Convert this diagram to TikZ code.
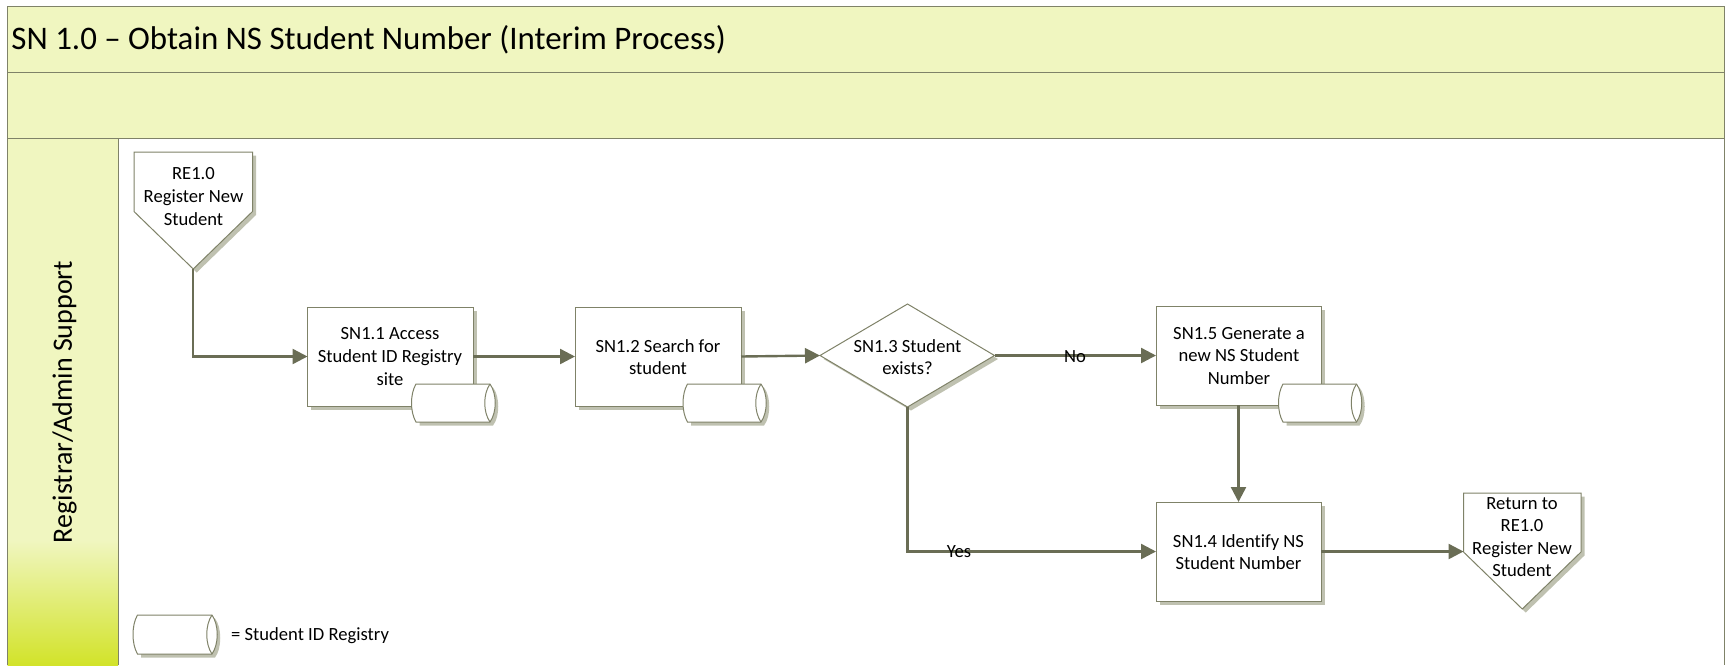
\documentclass[tikz,border=0pt]{standalone}
\usepackage{fontspec}
\setmainfont[Ligatures=NoCommon]{Carlito}
\usetikzlibrary{arrows.meta,shapes.geometric}
\definecolor{band}{HTML}{F0F6C0}
\definecolor{lime}{HTML}{D2E32A}
\definecolor{edge}{HTML}{7F8268}
\definecolor{conn}{HTML}{6A6D55}
\definecolor{shade}{HTML}{BFC1B0}
\tikzset{
  x=1pt,y=-1pt,
  bandbox/.style={draw=edge,line width=1pt,fill=band},
  shp/.style={draw=edge,line width=1pt,fill=white},
  shadowfill/.style={fill=shade,draw=none},
  txt/.style={font=\fontsize{18.6}{22.6}\selectfont,align=center,text=black,inner sep=0pt},
  flow/.style={draw=conn,line width=2.4pt,-{Triangle[length=15pt,width=15pt]},rounded corners=0pt},
  plain/.style={draw=none,inner sep=0pt,outer sep=0pt,fill=none},
}
\newcommand{\procbox}[5]{% name x1 y1 x2 y2
  \fill[shadowfill] (#2+3.5,#3+3.5) rectangle (#4+3.5,#5+3.5);
  \draw[shp] (#2,#3) rectangle (#4,#5);
  \coordinate (#1) at ({(#2+#4)/2},{(#3+#5)/2});
}
\newcommand{\cyl}[4]{% x1 y1 x2 y2
  \fill[shadowfill] (#1+8,#2+3.5) -- (#3-2,#2+3.5) .. controls (#3+5,#2+12) and (#3+5,#4-5) .. (#3-2,#4+3.5) -- (#1+8,#4+3.5) -- cycle;
  \draw[shp] (#1+4.5,#2) -- (#3-5,#2) .. controls (#3+2,#2+10) and (#3+2,#4-10) .. (#3-5,#4) -- (#1+4.5,#4) .. controls (#1-1.5,#4-10) and (#1-1.5,#2+10) .. (#1+4.5,#2) -- cycle;
  \draw[draw=edge,line width=1pt] (#3-5,#2) .. controls (#3-12,#2+10) and (#3-12,#4-10) .. (#3-5,#4);
}
\newcommand{\offpage}[6]{% name x1 y1 x2 yshoulder ytip
  \fill[shadowfill] (#2+3.5,#3+3.5) -- (#4+3.5,#3+3.5) -- (#4+3.5,#5+3.5) -- ({(#2+#4)/2+3.5},#6+3.5) -- (#2+3.5,#5+3.5) -- cycle;
  \draw[shp] (#2,#3) -- (#4,#3) -- (#4,#5) -- ({(#2+#4)/2},#6) -- (#2,#5) -- cycle;
  \coordinate (#1) at ({(#2+#4)/2},#6);
}
\begin{document}
\begin{tikzpicture}
\useasboundingbox (0,0) rectangle (1729,665);
% bands
\draw[bandbox] (7.5,6) rectangle (1724,72);
\draw[bandbox] (7.5,72) rectangle (1724,138);
\node[plain,anchor=west,font=\fontsize{32.9}{40}\selectfont] (title) at (11.5,40) {SN 1.0 – Obtain NS Student Number (Interim Process)};
% lane
\fill[band] (7.5,138) rectangle (118,540);
\shade[top color=band,bottom color=lime] (7.5,540) rectangle (118,665);
\draw[draw=edge,line width=1pt] (7.5,665) -- (7.5,138) -- (118,138) -- (118,665);
\node[plain,rotate=90,font=\fontsize{28}{34}\selectfont] (lane) at (64.5,402) {Registrar/Admin Support};
\draw[draw=edge,line width=1pt] (118,138) -- (1724,138) -- (1724,665);

% shapes
\offpage{startp}{134}{152}{252.5}{211.5}{269}
\procbox{b1}{307.5}{307}{473}{406}
\procbox{b2}{575}{307}{741}{406}
\fill[shadowfill] (823.5,359) -- (911,307.5) -- (998,359) -- (911,410.5) -- cycle;
\draw[shp] (820,355.5) -- (907.5,304) -- (994.5,355.5) -- (907.5,407) -- cycle;
\coordinate (d) at (907.5,355.5);
\procbox{b5}{1156}{306}{1321}{405}
\procbox{b4}{1156}{502}{1321}{601}
\offpage{endp}{1463.5}{493}{1581}{552}{609}

% connectors
\coordinate (dW) at (820,355.5);
\coordinate (dE) at (994.5,355.5);
\coordinate (dS) at (907.5,407);
\coordinate (b1W) at (307.5,356.5);
\coordinate (b1E) at (473,356.5);
\coordinate (b2W) at (575,356.5);
\coordinate (b2E) at (741,356.5);
\coordinate (b5W) at (1156,355.5);
\coordinate (b5S) at (1238.5,405);
\coordinate (b4N) at (1238.5,502);
\coordinate (b4W) at (1156,551.5);
\coordinate (b4E) at (1321,551.5);
\coordinate (eW) at (1463.5,551.5);
\draw[flow] (startp) -- (startp |- b1W) -- (b1W);
\draw[flow] (b1E) -- (b2W);
\draw[flow] (b2E) -- (dW);
\draw[flow] (dE) -- (b5W);
\draw[flow] (dS) -- (dS |- b4W) -- (b4W);
\draw[flow] (b5S) -- (b4N);
\draw[flow] (b4E) -- (eW);

% cylinders
\cyl{411.5}{384}{495}{422}
\cyl{683}{384}{766}{422}
\cyl{1278.5}{384}{1361.5}{422}
\cyl{133}{615}{217}{654}

% texts
\node[txt] (t0) at (193.5,196.5) {RE1.0\\Register New\\Student};
\node[txt] (t1) at (390,356.5) {SN1.1 Access\\Student ID Registry\\site};
\node[txt] (t2) at (658,357) {SN1.2 Search for\\student};
\node[txt] (t3) at (907.5,357) {SN1.3 Student\\exists?};
\node[txt] (t5) at (1239,356) {SN1.5 Generate a\\new NS Student\\Number};
\node[txt] (t4) at (1238.5,552) {SN1.4 Identify NS\\Student Number};
\node[txt] (t6) at (1522,537) {Return to\\RE1.0\\Register New\\Student};
\node[txt] (no) at (1075,357) {No};
\node[txt] (yes) at (959,552) {Yes};
\node[txt,anchor=west] (leg) at (231,636) {= Student ID Registry};
\end{tikzpicture}
\end{document}
